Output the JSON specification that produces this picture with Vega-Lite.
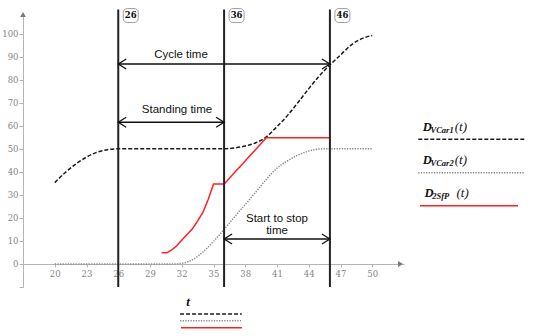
{
  "$schema": "https://vega.github.io/schema/vega-lite/v6.json",
  "width": 381,
  "height": 273,
  "autosize": {"type": "none"},
  "padding": {"left": 23, "top": 14, "right": 142, "bottom": 49},
  "background": "white",
  "config": {"view": {"stroke": null}, "axis": {"labelOverlap": false}},
  "resolve": {"axis": {"x": "independent", "y": "independent"}},
  "datasets": {
    "curves": [
      {"t": 20, "v": 35.3, "series": "D_VCar1"},
      {"t": 21, "v": 39.7, "series": "D_VCar1"},
      {"t": 22, "v": 43.4, "series": "D_VCar1"},
      {"t": 23, "v": 46.4, "series": "D_VCar1"},
      {"t": 24, "v": 48.5, "series": "D_VCar1"},
      {"t": 25, "v": 49.6, "series": "D_VCar1"},
      {"t": 26, "v": 50, "series": "D_VCar1"},
      {"t": 30, "v": 50, "series": "D_VCar1"},
      {"t": 36, "v": 50, "series": "D_VCar1"},
      {"t": 37, "v": 50.4, "series": "D_VCar1"},
      {"t": 38, "v": 51.2, "series": "D_VCar1"},
      {"t": 39, "v": 52.6, "series": "D_VCar1"},
      {"t": 40, "v": 55.2, "series": "D_VCar1"},
      {"t": 41, "v": 59.6, "series": "D_VCar1"},
      {"t": 42, "v": 64.5, "series": "D_VCar1"},
      {"t": 43, "v": 70.2, "series": "D_VCar1"},
      {"t": 44, "v": 76.1, "series": "D_VCar1"},
      {"t": 45, "v": 81.6, "series": "D_VCar1"},
      {"t": 46, "v": 86.4, "series": "D_VCar1"},
      {"t": 47, "v": 90.7, "series": "D_VCar1"},
      {"t": 48, "v": 95.0, "series": "D_VCar1"},
      {"t": 49, "v": 97.8, "series": "D_VCar1"},
      {"t": 50, "v": 99.2, "series": "D_VCar1"},
      {"t": 20, "v": 0, "series": "D_VCar2"},
      {"t": 25, "v": 0, "series": "D_VCar2"},
      {"t": 30, "v": 0, "series": "D_VCar2"},
      {"t": 31, "v": 0, "series": "D_VCar2"},
      {"t": 32, "v": 0.3, "series": "D_VCar2"},
      {"t": 33, "v": 1.8, "series": "D_VCar2"},
      {"t": 34, "v": 5.2, "series": "D_VCar2"},
      {"t": 35, "v": 9.8, "series": "D_VCar2"},
      {"t": 36, "v": 15, "series": "D_VCar2"},
      {"t": 37, "v": 20.5, "series": "D_VCar2"},
      {"t": 38, "v": 25.8, "series": "D_VCar2"},
      {"t": 39, "v": 31.2, "series": "D_VCar2"},
      {"t": 40, "v": 36.8, "series": "D_VCar2"},
      {"t": 41, "v": 41.6, "series": "D_VCar2"},
      {"t": 42, "v": 44.8, "series": "D_VCar2"},
      {"t": 43, "v": 47.3, "series": "D_VCar2"},
      {"t": 44, "v": 49.0, "series": "D_VCar2"},
      {"t": 45, "v": 49.9, "series": "D_VCar2"},
      {"t": 46, "v": 50, "series": "D_VCar2"},
      {"t": 50, "v": 50, "series": "D_VCar2"},
      {"t": 30.1, "v": 4.9, "series": "D_2SfP"},
      {"t": 30.6, "v": 4.9, "series": "D_2SfP"},
      {"t": 31.05, "v": 6.1, "series": "D_2SfP"},
      {"t": 31.5, "v": 7.8, "series": "D_2SfP"},
      {"t": 32, "v": 10.3, "series": "D_2SfP"},
      {"t": 32.5, "v": 12.8, "series": "D_2SfP"},
      {"t": 33, "v": 15.2, "series": "D_2SfP"},
      {"t": 33.5, "v": 18.7, "series": "D_2SfP"},
      {"t": 34, "v": 22.4, "series": "D_2SfP"},
      {"t": 34.5, "v": 28, "series": "D_2SfP"},
      {"t": 35, "v": 34.7, "series": "D_2SfP"},
      {"t": 36, "v": 34.7, "series": "D_2SfP"},
      {"t": 40, "v": 54.8, "series": "D_2SfP"},
      {"t": 46, "v": 54.8, "series": "D_2SfP"}
    ],
    "markers": [
      {"t": 26, "label": "26"},
      {"t": 36, "label": "36"},
      {"t": 46, "label": "46"}
    ],
    "spans": [
      {"label": "Cycle time", "start": 26, "end": 46, "level": 86.8},
      {"label": "Standing time", "start": 26, "end": 36, "level": 61.5},
      {"label": "Start to stop time", "start": 36, "end": 46, "level": 10.84}
    ],
    "notes": [
      {"text": "Cycle time", "t": 31.93, "v": 90.7},
      {"text": "Standing time", "t": 31.55, "v": 66.8},
      {"text": "Start to stop\ntime", "t": 41.0, "v": 19.5}
    ],
    "keys": [
      {"series": "D_VCar1", "group": "right", "main": "D", "sub": "VCar1", "x1": 54.35, "x2": 64.43, "level": 54.1},
      {"series": "D_VCar2", "group": "right", "main": "D", "sub": "VCar2", "x1": 54.35, "x2": 64.43, "level": 39.6},
      {"series": "D_2SfP", "group": "right", "main": "D", "sub": "2SfP", "x1": 54.51, "x2": 63.77, "level": 25.3},
      {"series": "D_VCar1", "group": "bottom", "main": "", "sub": "", "x1": 31.84, "x2": 37.67, "level": -21.7},
      {"series": "D_VCar2", "group": "bottom", "main": "", "sub": "", "x1": 31.84, "x2": 37.67, "level": -24.6},
      {"series": "D_2SfP", "group": "bottom", "main": "", "sub": "", "x1": 31.93, "x2": 37.69, "level": -27.7}
    ],
    "tips": [
      {"t": 17, "v": 108.3, "dir": "up"},
      {"t": 52.67, "v": 0, "dir": "right"}
    ],
    "tlabel": [
      {"text": "t", "t": 32.59, "v": -16.4}
    ]
  },
  "layer": [
    {
      "data": {"name": "curves"},
      "transform": [{"filter": "datum.series !== 'D_2SfP'"}],
      "mark": {"type": "line", "interpolate": "monotone", "strokeWidth": 1.5},
      "encoding": {
        "x": {"field": "t", "type": "quantitative", "title": null, "scale": {"domain": [17, 53], "nice": false, "zero": false},
          "axis": {"values": [20, 23, 26, 29, 32, 35, 38, 41, 44, 47, 50], "offset": -23, "title": null, "grid": false,
            "domainColor": "#b4b4b4", "tickColor": "#b4b4b4", "tickSize": 3, "labelColor": "#858585", "labelOverlap": false,
            "labelFont": "DejaVu Serif", "labelFontSize": 8.5, "labelPadding": 2, "labelFlush": false}},
        "y": {"field": "v", "type": "quantitative", "title": null, "scale": {"domain": [-10, 108.5], "nice": false, "zero": false},
          "axis": {"values": [-10, 0, 10, 20, 30, 40, 50, 60, 70, 80, 90, 100], "labelExpr": "datum.value < 0 ? '' : datum.label",
            "title": null, "grid": false, "domainColor": "#b4b4b4", "tickColor": "#b4b4b4", "tickSize": 4, "labelOverlap": false,
            "labelColor": "#858585", "labelFont": "DejaVu Serif", "labelFontSize": 8.5, "labelPadding": 1, "labelFlush": false}},
        "color": {"field": "series", "type": "nominal", "legend": null,
          "scale": {"domain": ["D_VCar1", "D_VCar2", "D_2SfP"], "range": ["#1a1a1a", "#8a8a8a", "#ff2020"]}},
        "strokeDash": {"field": "series", "type": "nominal", "legend": null,
          "scale": {"domain": ["D_VCar1", "D_VCar2", "D_2SfP"], "range": [[4, 2], [1.3, 1.3], [1, 0]]}}
      }
    },
    {
      "data": {"name": "curves"},
      "transform": [{"filter": "datum.series === 'D_2SfP'"}],
      "mark": {"type": "line", "interpolate": "linear", "strokeWidth": 1.5},
      "encoding": {
        "x": {"field": "t", "type": "quantitative", "axis": null, "scale": {"domain": [17, 53], "nice": false, "zero": false}},
        "y": {"field": "v", "type": "quantitative", "axis": null, "scale": {"domain": [-10, 108.5], "nice": false, "zero": false}},
        "color": {"field": "series", "type": "nominal", "legend": null},
        "strokeDash": {"field": "series", "type": "nominal", "legend": null}
      }
    },
    {
      "data": {"name": "keys"},
      "mark": {"type": "rule", "strokeWidth": 1.5},
      "encoding": {
        "x": {"field": "x1", "type": "quantitative", "axis": null, "scale": {"domain": [17, 53], "nice": false, "zero": false}},
        "x2": {"field": "x2"},
        "y": {"field": "level", "type": "quantitative", "axis": null, "scale": {"domain": [-10, 108.5], "nice": false, "zero": false}},
        "color": {"field": "series", "type": "nominal", "legend": null},
        "strokeDash": {"field": "series", "type": "nominal", "legend": null}
      }
    },
    {
      "data": {"name": "markers"},
      "mark": {"type": "rule", "stroke": "#222222", "strokeWidth": 2},
      "encoding": {
        "x": {"field": "t", "type": "quantitative", "axis": null, "scale": {"domain": [17, 53], "nice": false, "zero": false}},
        "y": {"datum": -10, "type": "quantitative", "axis": null, "scale": {"domain": [-10, 108.5], "nice": false, "zero": false}},
        "y2": {"datum": 110.45}
      }
    },
    {
      "data": {"name": "markers"},
      "mark": {"type": "rect", "fill": "white", "stroke": "#a0a0a0", "strokeWidth": 1, "cornerRadius": 4, "xOffset": 5, "x2Offset": 20},
      "encoding": {
        "x": {"field": "t", "type": "quantitative", "axis": null, "scale": {"domain": [17, 53], "nice": false, "zero": false}},
        "x2": {"field": "t"},
        "y": {"datum": 110.9, "type": "quantitative", "axis": null, "scale": {"domain": [-10, 108.5], "nice": false, "zero": false}},
        "y2": {"datum": 104.8}
      }
    },
    {
      "data": {"name": "markers"},
      "mark": {"type": "text", "font": "DejaVu Serif", "fontWeight": "bold", "fontSize": 8.5, "color": "#111111", "align": "center", "baseline": "middle", "dx": 12.5},
      "encoding": {
        "x": {"field": "t", "type": "quantitative", "axis": null, "scale": {"domain": [17, 53], "nice": false, "zero": false}},
        "y": {"datum": 107.85, "type": "quantitative", "axis": null, "scale": {"domain": [-10, 108.5], "nice": false, "zero": false}},
        "text": {"field": "label"}
      }
    },
    {
      "data": {"name": "spans"},
      "mark": {"type": "rule", "stroke": "#111111", "strokeWidth": 1.4},
      "encoding": {
        "x": {"field": "start", "type": "quantitative", "axis": null, "scale": {"domain": [17, 53], "nice": false, "zero": false}},
        "x2": {"field": "end"},
        "y": {"field": "level", "type": "quantitative", "axis": null, "scale": {"domain": [-10, 108.5], "nice": false, "zero": false}}
      }
    },
    {
      "data": {"name": "spans"},
      "mark": {"type": "point", "shape": "M1.6,-1L0,0L1.6,1", "filled": false, "size": 100, "stroke": "#111111", "strokeWidth": 1.3, "opacity": 1},
      "encoding": {
        "x": {"field": "start", "type": "quantitative", "axis": null, "scale": {"domain": [17, 53], "nice": false, "zero": false}},
        "y": {"field": "level", "type": "quantitative", "axis": null, "scale": {"domain": [-10, 108.5], "nice": false, "zero": false}}
      }
    },
    {
      "data": {"name": "spans"},
      "mark": {"type": "point", "shape": "M-1.6,-1L0,0L-1.6,1", "filled": false, "size": 100, "stroke": "#111111", "strokeWidth": 1.3, "opacity": 1},
      "encoding": {
        "x": {"field": "end", "type": "quantitative", "axis": null, "scale": {"domain": [17, 53], "nice": false, "zero": false}},
        "y": {"field": "level", "type": "quantitative", "axis": null, "scale": {"domain": [-10, 108.5], "nice": false, "zero": false}}
      }
    },
    {
      "data": {"name": "notes"},
      "mark": {"type": "text", "font": "Liberation Sans", "fontSize": 11.5, "color": "#111111", "align": "center", "baseline": "middle", "lineBreak": "\n", "lineHeight": 12},
      "encoding": {
        "x": {"field": "t", "type": "quantitative", "axis": null, "scale": {"domain": [17, 53], "nice": false, "zero": false}},
        "y": {"field": "v", "type": "quantitative", "axis": null, "scale": {"domain": [-10, 108.5], "nice": false, "zero": false}},
        "text": {"field": "text"}
      }
    },
    {
      "data": {"name": "tips"},
      "mark": {"type": "point", "filled": true, "size": 34, "color": "#7a7a7a", "opacity": 1},
      "encoding": {
        "x": {"field": "t", "type": "quantitative", "axis": null, "scale": {"domain": [17, 53], "nice": false, "zero": false}},
        "y": {"field": "v", "type": "quantitative", "axis": null, "scale": {"domain": [-10, 108.5], "nice": false, "zero": false}},
        "shape": {"field": "dir", "type": "nominal", "legend": null, "scale": {"domain": ["up", "right"], "range": ["triangle-up", "triangle-right"]}}
      }
    },
    {
      "data": {"name": "keys"},
      "transform": [{"filter": "datum.group === 'right'"}],
      "layer": [
        {
          "mark": {"type": "text", "font": "Liberation Serif", "fontStyle": "italic", "fontWeight": "bold", "fontSize": 12.5, "color": "#111111", "align": "left", "baseline": "alphabetic", "dx": 4.4, "dy": -8.6},
          "encoding": {"text": {"field": "main"}}
        },
        {
          "mark": {"type": "text", "font": "Liberation Serif", "fontStyle": "italic", "fontWeight": "bold", "fontSize": 8.5, "color": "#111111", "align": "left", "baseline": "alphabetic", "dx": 12.2, "dy": -6.4},
          "encoding": {"text": {"field": "sub"}}
        },
        {
          "mark": {"type": "text", "font": "Liberation Serif", "fontStyle": "italic", "fontSize": 13, "color": "#111111", "align": "left", "baseline": "alphabetic", "dx": 36.5, "dy": -8.6, "text": "(t)"},
          "encoding": {}
        }
      ],
      "encoding": {
        "x": {"field": "x1", "type": "quantitative", "axis": null, "scale": {"domain": [17, 53], "nice": false, "zero": false}},
        "y": {"field": "level", "type": "quantitative", "axis": null, "scale": {"domain": [-10, 108.5], "nice": false, "zero": false}}
      }
    },
    {
      "data": {"name": "tlabel"},
      "mark": {"type": "text", "font": "Liberation Serif", "fontStyle": "italic", "fontWeight": "bold", "fontSize": 13, "color": "#111111", "align": "center", "baseline": "middle"},
      "encoding": {
        "x": {"field": "t", "type": "quantitative", "axis": null, "scale": {"domain": [17, 53], "nice": false, "zero": false}},
        "y": {"field": "v", "type": "quantitative", "axis": null, "scale": {"domain": [-10, 108.5], "nice": false, "zero": false}},
        "text": {"field": "text"}
      }
    }
  ]
}
